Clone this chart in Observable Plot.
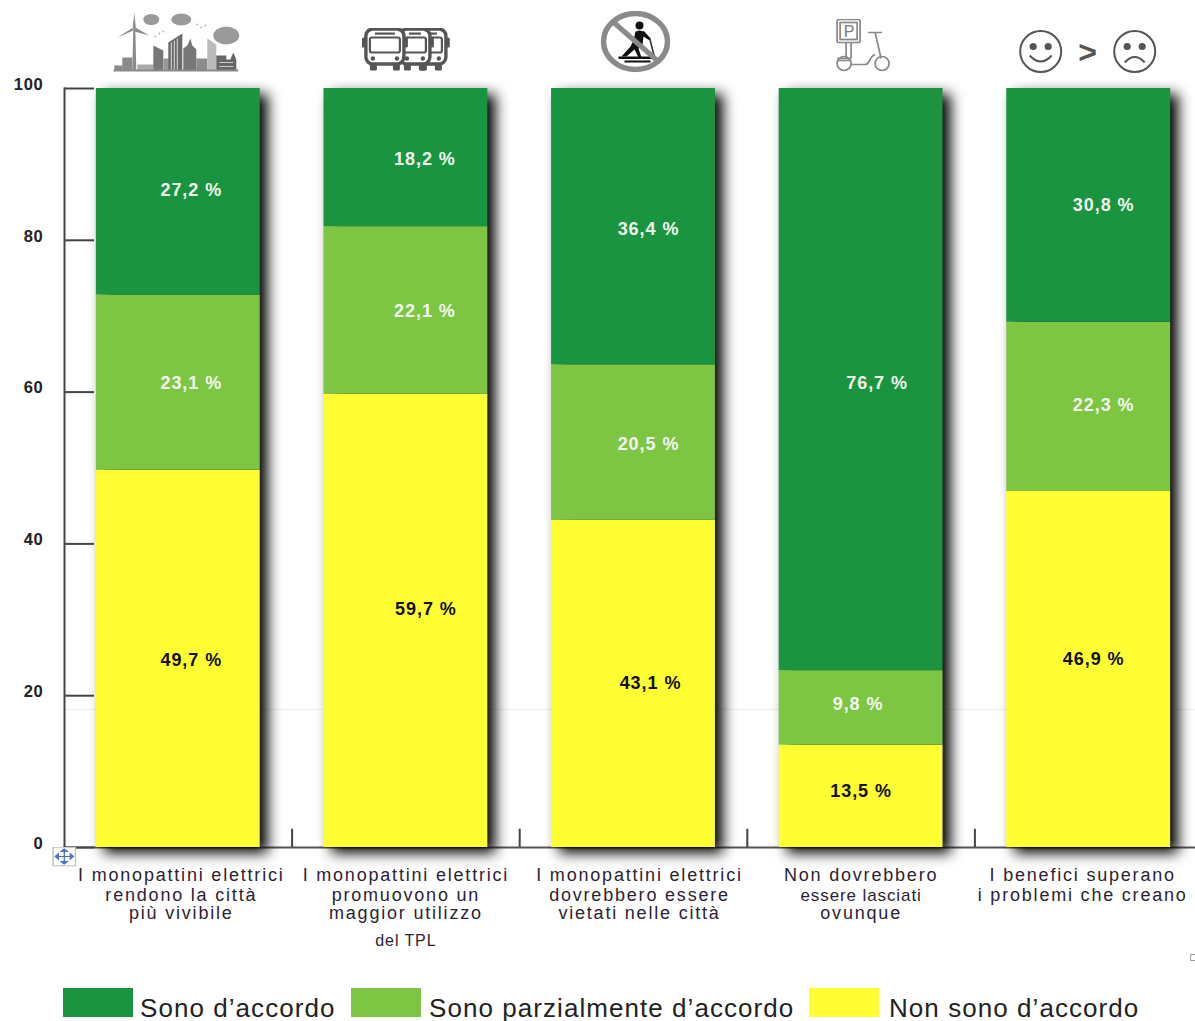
<!DOCTYPE html>
<html><head><meta charset="utf-8">
<script src="https://cdn.jsdelivr.net/npm/d3@7"></script>
<script src="https://cdn.jsdelivr.net/npm/@observablehq/plot@0.6"></script>
<style>
html,body{margin:0;padding:0;background:#fff;overflow:hidden}
#chart svg{display:block;overflow:hidden}
.val text{letter-spacing:.95px}
.cat text{letter-spacing:1.8px}
.cat2 text{letter-spacing:.9px}
.ax text{letter-spacing:.7px}
#legend{position:relative;height:46px;font:26px "Liberation Sans",Arial,sans-serif;color:#222;letter-spacing:1.06px}
#legend i{position:absolute;top:13px;height:29px;width:70px}
#legend span{position:absolute;top:17px;line-height:32px;white-space:nowrap}
</style></head><body>
<div id="chart"></div><div id="legend"></div>
<script>
const categories = ["c1","c2","c3","c4","c5"];
const series = ["Non sono d’accordo","Sono parzialmente d’accordo","Sono d’accordo"];
const disagree = [49.7,59.7,43.1,13.5,46.9];
const partly   = [23.1,22.1,20.5,9.8,22.3];
const agree    = [27.2,18.2,36.4,76.7,30.8];
const yTicks = [0,20,40,60,80,100];
const categoryLines = [
 ["I monopattini elettrici","rendono la città","più vivibile"],
 ["I monopattini elettrici","promuovono un","maggior utilizzo","del TPL"],
 ["I monopattini elettrici","dovrebbero essere","vietati nelle città"],
 ["Non dovrebbero","essere lasciati","ovunque"],
 ["I benefici superano","i problemi che creano"]
];
const colors = ["#ffff33","#7fc544","#1b9442"];

// layout only
const H=975, BASE=847;
const labelDx = [[13,20,17,0,5],[13,19,15,-3,15],[13,19,15,16,15]];
const labelDy = [[1,-12,-1,-5,-10],[1,1,2,-4,-2],[-1,2,3,4,0]];
const catDx = [3,0,6,0,-6];
const lineDy = [28,48,66,93];

const values=[disagree,partly,agree];
const rows=[], labels=[];
categories.forEach((c,i)=>{let b=0;series.forEach((s,j)=>{const v=values[j][i];
 rows.push({c,s,v}); labels.push({c,i,j,v,y:b+v/2}); b+=v;});});
const fmt=v=>v.toFixed(1).replace(".",",")+" %";

const uri=s=>"data:image/svg+xml,"+encodeURIComponent(`<svg xmlns="http://www.w3.org/2000/svg" ${s}</svg>`);
const iconCity=uri(`viewBox="0 0 128 60"><g fill="#8a8a8a">
<path d="M20 16h2l1 42h-4z"/><path d="M21 0l1.6 16h-3.2zM20 15L4 25l16-7zM22 15l14 8-15-4z"/>
<rect x="9" y="45" width="10" height="13"/><rect x="1" y="53" width="8" height="5"/><rect x="24" y="52" width="16" height="6" fill="#aaa"/>
<path d="M40 33l10 5v20H40z" fill="#777"/><rect x="50" y="46" width="6" height="12" fill="#999"/>
<path d="M55 30l14-9v37H55z" fill="#6b6b6b"/><path d="M58 30v28M61 28v30M64 26v32" stroke="#ddd" stroke-width="1"/>
<path d="M70 58V36l4-3 3-7 2 7 4 4v21z" fill="#777"/><rect x="83" y="46" width="11" height="12" fill="#8c8c8c"/>
<path d="M94 26l9 6v26h-9z" fill="#bbb"/><path d="M103 43h10v4h4l3-7 3 7v11h-20z" fill="#666"/>
<path d="M106 50h14M106 54h14" stroke="#ccc"/><rect x="0" y="57" width="125" height="2"/></g>
<g fill="#9a9a9a"><ellipse cx="38" cy="7" rx="8" ry="5.5"/><ellipse cx="68" cy="7" rx="10" ry="6"/><ellipse cx="113" cy="23" rx="13" ry="9"/></g>
<g fill="#bbb"><circle cx="42" cy="24" r="1"/><circle cx="46" cy="21" r="1"/><circle cx="50" cy="19" r="1"/><circle cx="84" cy="12" r="1"/><circle cx="88" cy="15" r="1"/><circle cx="92" cy="13" r="1"/></g>`);
const bus=(x,w)=>`<g transform="translate(${x} 0)"><rect x="4" y="1.5" width="${w}" height="35" rx="7" fill="#fff" stroke="#555" stroke-width="3.4"/><rect x="8" y="10" width="${w-8}" height="15" rx="2" fill="#fff" stroke="#555" stroke-width="2.2"/><rect x="13" y="5" width="${w-18}" height="2.2" fill="#555"/><rect x="8" y="37" width="7" height="6" rx="1.5" fill="#555"/><rect x="${w-7}" y="37" width="7" height="6" rx="1.5" fill="#555"/><circle cx="11" cy="31" r="2.2" fill="#555"/><circle cx="${w+1-4}" cy="31" r="2.2" fill="#555"/><rect x="0" y="10" width="3.5" height="10" rx="1.5" fill="#555"/><rect x="${w+4.5}" y="10" width="3.5" height="10" rx="1.5" fill="#555"/></g>`;
const iconBus=uri(`viewBox="0 0 88 44">${bus(50,30)}${bus(34,30)}${bus(0,38)}`);
const iconNo=uri(`viewBox="0 0 70 62"><path d="M35 21l4-1 5 1 6 7-1 2-6-4-1 9-4 3 3 9h-3l-4-8-8 7h-5l9-10 3-6z" fill="#111"/><circle cx="39" cy="15" r="4" fill="#111"/><path d="M18 46h34v2.5H18zM24 50h26v2H24z" fill="#111"/><path d="M49 27l5 20" stroke="#333" stroke-width="1.6"/><path d="M11 10L59 52" stroke="#8a8a8a" stroke-width="5"/><ellipse cx="35" cy="31" rx="32" ry="28" fill="none" stroke="#8a8a8a" stroke-width="5.5"/>`);
const iconScooter=uri(`viewBox="0 0 58 54" fill="none" stroke="#888" stroke-width="1.7"><rect x="2" y="1" width="23" height="23" rx="2"/><rect x="5" y="4" width="17" height="17"/><path d="M11 24v16M16 24v16M2 40h14"/><circle cx="9" cy="45" r="7"/><circle cx="47" cy="45" r="7"/><path d="M2 42h13M16 46h14c5 0 4-8 10-10M40 14l6 26M33 14h14" />`);
const face=(x,sad)=>`<g transform="translate(${x} 0)" fill="none" stroke="#555" stroke-width="2"><circle cx="22" cy="20" r="20.5"/><circle cx="14.5" cy="15" r="2.6" fill="#555"/><circle cx="29.5" cy="15" r="2.6" fill="#555"/><path d="${sad?"M12 31q10-11 20 0":"M11 24q11 12 22 0"}"/></g>`;
const iconFaces=uri(`viewBox="-2 -2 144 44">${face(0,false)}${face(94,true)}`);
const iconMove=uri(`viewBox="0 0 24 24"><rect x=".7" y=".7" width="22.6" height="22.6" fill="#fff" stroke="#bbb" stroke-width="1.5"/><path d="M12 4v16M4 12h16M12 3l-3 3h6zM12 21l-3-3h6zM3 12l3-3v6zM21 12l-3-3v6z" stroke="#4a74c8" fill="#4a74c8" stroke-width="1.4"/>`);
const iconBox=uri(`viewBox="0 0 8 8"><rect x="1" y="1" width="6" height="6" fill="#fff" stroke="#999" stroke-width="1"/>`);
const image=(src,i,w,h,dx,dy)=>Plot.image([0],{x:()=>categories[i],y:()=>100,src:()=>src,width:w,height:h,dx,dy,preserveAspectRatio:"none",imageFilter:"blur(.5px)"});

const marks=[
 Plot.ruleY([18.2],{stroke:"#ececec"}),
 Plot.frame({anchor:"left",stroke:"#444",strokeWidth:2}),
 Plot.frame({anchor:"bottom",stroke:"#555",strokeWidth:2}),
 Plot.axisY({ticks:yTicks,tickSize:-30,tickFormat:()=>"",stroke:"#444",strokeWidth:2,label:null}),
 Plot.axisY({ticks:yTicks,tickSize:0,tickPadding:21,dy:-4,fontSize:16.5,fontWeight:"600",fill:"#222",className:"ax",tickFormat:d=>d,label:null}),
 Plot.ruleX(categories.slice(0,4),{x:d=>d,y1:0,y2:2.4,dx:113.8,stroke:"#444",strokeWidth:2}),
 Plot.barY(categories,{x:d=>d,y:()=>100,fill:"#000",dx:8,dy:6,imageFilter:"blur(7px)"}),
 Plot.barY(rows,{x:"c",y:"v",fill:"s"}),
 ...labels.map(l=>Plot.text([l],{x:"c",y:"y",text:d=>fmt(d.v),dx:labelDx[l.j][l.i],dy:labelDy[l.j][l.i],fontSize:18,fontWeight:"bold",fontFamily:"Liberation Sans",fill:l.j===0?"#111":"#f2f8ee",className:"val"})),
 ...categoryLines.flatMap((ls,i)=>ls.map((t,k)=>{
   const plain=(i===1&&k===3)||(i===3&&k===1);
   return Plot.text([t],{x:()=>categories[i],y:()=>0,text:d=>d,dx:catDx[i],dy:lineDy[k],fontSize:plain?(k===3?16:17):18,fontFamily:"Liberation Sans",fill:"#2b2333",className:plain?"cat2":"cat"});
 })),
 image(iconCity,0,128,60,-1,-46),
 image(iconBus,1,88,44,0,-39),
 image(iconNo,2,70,62,2,-47),
 image(iconScooter,3,58,54,3,-43),
 image(iconFaces,4,144,44,0,-37),
 Plot.text([">"],{x:()=>categories[4],y:()=>100,text:d=>d,dx:-1,dy:-36,fontSize:32,fontWeight:"bold",fontFamily:"Liberation Sans",fill:"#555"}),
 Plot.text(["P"],{x:()=>categories[3],y:()=>100,text:d=>d,dx:-12,dy:-57,fontSize:16,fontFamily:"Liberation Sans",fill:"#777"}),
 Plot.image([0],{x:()=>categories[0],y:()=>0,src:()=>iconMove,width:24,height:20,dx:-114,dy:9,preserveAspectRatio:"none"}),
 Plot.image([0],{x:()=>categories[4],y:()=>0,src:()=>iconBox,width:8,height:8,dx:105,dy:110,preserveAspectRatio:"none"})
];

const chart=Plot.plot({
 width:1195,height:H,marginLeft:64,marginRight:0,marginTop:88,marginBottom:H-BASE,
 style:{fontFamily:"Liberation Sans",background:"#fff",overflow:"hidden"},
 x:{type:"band",domain:categories,range:[64,1202],round:false,paddingInner:.28,paddingOuter:.14,axis:null},
 y:{domain:[0,100],range:[BASE,88],axis:null},
 color:{domain:series,range:colors,legend:false},
 marks
});
document.getElementById("chart").append(chart);

const lg=document.getElementById("legend");
[[2,63,140],[1,351,429],[0,809,889]].forEach(([j,sx,tx])=>{
 const i=document.createElement("i");i.style.left=sx+"px";i.style.background=colors[j];lg.append(i);
 const s=document.createElement("span");s.style.left=tx+"px";s.textContent=series[j];lg.append(s);
});
</script></body></html>
